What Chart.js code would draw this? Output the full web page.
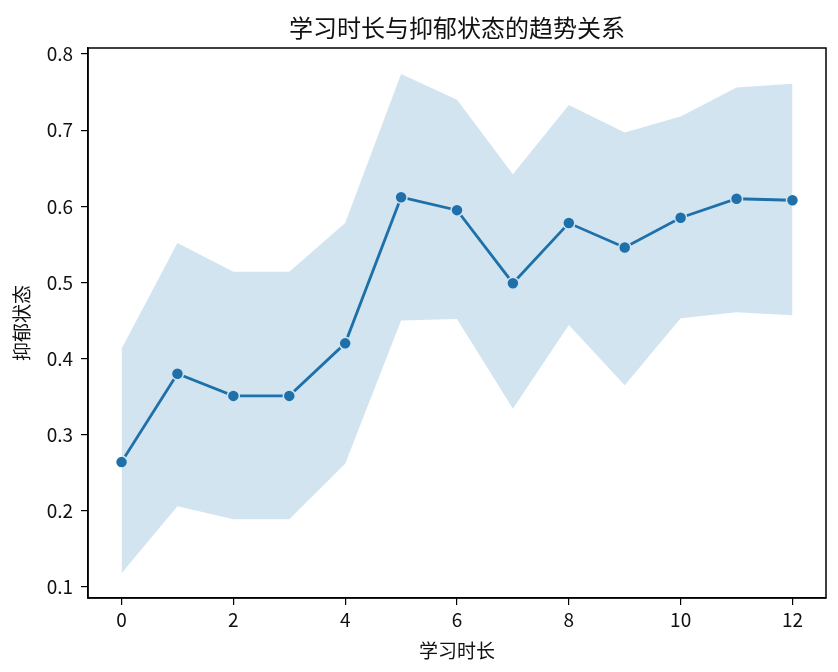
<!DOCTYPE html>
<html>
<head>
<meta charset="utf-8">
<script src="https://cdn.jsdelivr.net/npm/chart.js@4"></script>
<style>
  body { margin: 0; background: #fff; }
  #wrap { width: 838px; height: 672px; }
</style>
</head>
<body>
<div id="wrap"><canvas id="trendChart"></canvas></div>
<script>
// data
const hours = [0, 1, 2, 3, 4, 5, 6, 7, 8, 9, 10, 11, 12];
const meanScore = [0.264, 0.380, 0.351, 0.351, 0.420, 0.612, 0.595, 0.499, 0.578, 0.546, 0.585, 0.610, 0.608];
const upperCI = [0.413, 0.552, 0.514, 0.514, 0.578, 0.774, 0.740, 0.642, 0.733, 0.697, 0.718, 0.756, 0.761];
const lowerCI = [0.118, 0.206, 0.189, 0.189, 0.262, 0.450, 0.452, 0.334, 0.444, 0.365, 0.453, 0.461, 0.457];
const xTicks = [0, 2, 4, 6, 8, 10, 12];
const yTicks = [0.1, 0.2, 0.3, 0.4, 0.5, 0.6, 0.7, 0.8];

const titleText = "学习时长与抑郁状态的趋势关系";
const cjk = "'Noto Sans CJK SC', 'Noto Sans', sans-serif";

function points(values) {
  return hours.map((h, i) => ({ x: h, y: values[i] }));
}

// frame + title like matplotlib
const framePlugin = {
  id: "frame",
  afterDraw(chart) {
    const { ctx, chartArea } = chart;
    ctx.save();
    ctx.strokeStyle = "#000";
    ctx.lineWidth = 1.5;
    ctx.strokeRect(chartArea.left, chartArea.top, chartArea.right - chartArea.left, chartArea.bottom - chartArea.top);
    ctx.fillStyle = "#111";
    ctx.font = "24px " + cjk;
    ctx.textAlign = "center";
    ctx.textBaseline = "middle";
    ctx.fillText(titleText, (chartArea.left + chartArea.right) / 2, 28);
    ctx.restore();
  },
};

const tickFont = { family: cjk, size: 19 };
const labelFont = { family: cjk, size: 19 };

window.onload = function () {
  const ctx = document.getElementById("trendChart").getContext("2d");
  new Chart(ctx, {
    type: "line",
    data: {
      datasets: [
        {
          label: "lower",
          data: points(lowerCI),
          borderWidth: 0,
          pointRadius: 0,
          fill: false,
        },
        {
          label: "upper",
          data: points(upperCI),
          borderWidth: 0,
          pointRadius: 0,
          backgroundColor: "rgba(31, 119, 180, 0.2)",
          fill: "-1",
        },
        {
          label: "抑郁状态",
          data: points(meanScore),
          borderColor: "#1f6fa8",
          borderWidth: 2.8,
          pointRadius: 6,
          pointBackgroundColor: "#1f6fa8",
          pointBorderColor: "#fff",
          pointBorderWidth: 1.5,
          fill: false,
          tension: 0,
        },
      ],
    },
    options: {
      responsive: true,
      maintainAspectRatio: false,
      animation: false,
      layout: { padding: { top: 48, right: 12, left: 0, bottom: 0 } },
      plugins: {
        legend: { display: false },
        tooltip: { enabled: false },
      },
      scales: {
        x: {
          type: "linear",
          min: -0.6,
          max: 12.6,
          afterBuildTicks: (axis) => {
            axis.ticks = xTicks.map((v) => ({ value: v }));
          },
          afterFit: (scale) => {
            scale.height = 74;
          },
          grid: { drawOnChartArea: false, color: "#000", lineWidth: 1.2, tickLength: 7 },
          border: { display: true, color: "#000", width: 1.5 },
          ticks: { color: "#111", font: tickFont, padding: 3, maxRotation: 0 },
          title: { display: true, text: "学习时长", color: "#111", font: labelFont, padding: { top: 0, bottom: 10 } },
        },
        y: {
          min: 0.0855,
          max: 0.808,
          afterBuildTicks: (axis) => {
            axis.ticks = yTicks.map((v) => ({ value: v }));
          },
          afterFit: (scale) => {
            scale.width = 88;
          },
          grid: { drawOnChartArea: false, color: "#000", lineWidth: 1.2, tickLength: 7 },
          border: { display: true, color: "#000", width: 1.5 },
          ticks: {
            color: "#111",
            font: tickFont,
            padding: 8,
            callback: (v) => v.toFixed(1),
          },
          title: { display: true, text: "抑郁状态", color: "#111", font: labelFont, padding: { top: 10, bottom: 0 } },
        },
      },
    },
    plugins: [framePlugin],
  });
};
</script>
</body>
</html>
